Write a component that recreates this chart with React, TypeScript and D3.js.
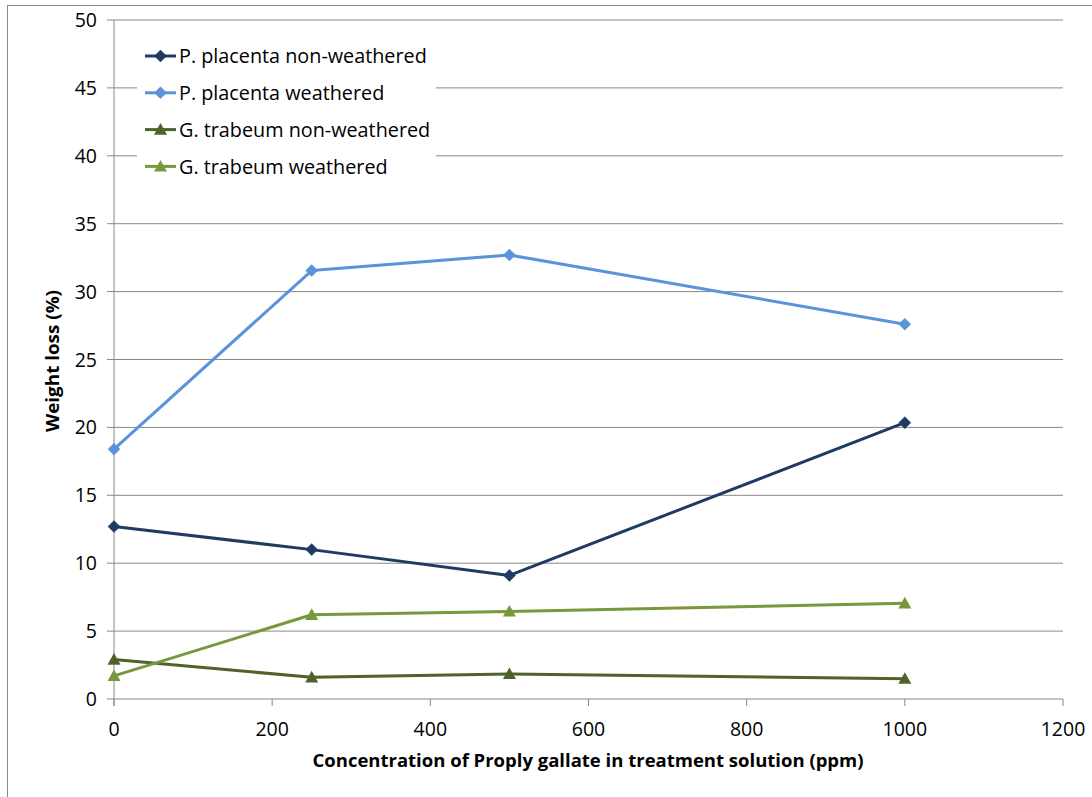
import React from "react";
import * as d3 from "d3";

const concentrations = [0, 250, 500, 1000];
const ppNonWeathered = [12.7, 11.0, 9.1, 20.35];
const ppWeathered = [18.4, 31.55, 32.7, 27.6];
const gtNonWeathered = [2.9, 1.6, 1.85, 1.5];
const gtWeathered = [1.7, 6.2, 6.45, 7.05];
const seriesNames = [
  "P. placenta non-weathered",
  "P. placenta weathered",
  "G. trabeum non-weathered",
  "G. trabeum weathered",
];
const xTicks = [0, 200, 400, 600, 800, 1000, 1200];
const yTicks = [0, 5, 10, 15, 20, 25, 30, 35, 40, 45, 50];

const colors = ["#1F3B63", "#5A93DA", "#4F6228", "#77993C"];
const markers = ["diamond", "diamond", "triangle", "triangle"];
const FONT = "Open Sans, Noto Sans, Liberation Sans, sans-serif";

export default function App() {
  const W = 1092, H = 797;
  const x = d3.scaleLinear().domain([0, 1200]).range([114, 1063]);
  const y = d3.scaleLinear().domain([0, 50]).range([699, 20]);
  const data = [ppNonWeathered, ppWeathered, gtNonWeathered, gtWeathered];
  const line = d3.line<number>().x((_, i) => x(concentrations[i])).y((d) => y(d));

  const marker = (type: string, cx: number, cy: number, color: string, key: string) => {
    if (type === "diamond") {
      const s = 6;
      return (
        <path key={key} d={`M${cx},${cy - s}L${cx + s},${cy}L${cx},${cy + s}L${cx - s},${cy}Z`} fill={color} stroke={color} strokeWidth={0.5} />
      );
    }
    const s = 6.5;
    return (
      <path key={key} d={`M${cx},${cy - s}L${cx + s},${cy + s * 0.8}L${cx - s},${cy + s * 0.8}Z`} fill={color} />
    );
  };

  return (
    <svg width={W} height={H} style={{ position: "absolute", left: 0, top: 0, background: "#fff" }}>
      <rect x={0} y={0} width={W} height={H} fill="#fff" />
      <line x1={7} x2={W} y1={5.5} y2={5.5} stroke="#8c8c8c" strokeWidth={1} />
      <line x1={7.5} x2={7.5} y1={5} y2={797} stroke="#8c8c8c" strokeWidth={1} />
      {yTicks.map((t) => (
        <g key={"y" + t}>
          <line x1={107} x2={1063} y1={y(t)} y2={y(t)} stroke="#888" strokeWidth={1} />
          <text x={97} y={y(t)} dy="0.36em" textAnchor="end" fontFamily={FONT} fontSize={19.5} fill="#000">{t}</text>
        </g>
      ))}
      <line x1={114} x2={114} y1={20} y2={706} stroke="#888" strokeWidth={1} />
      {xTicks.map((t) => (
        <g key={"x" + t}>
          <line x1={x(t)} x2={x(t)} y1={699} y2={706} stroke="#888" strokeWidth={1} />
          <text x={x(t)} y={736} textAnchor="middle" fontFamily={FONT} fontSize={19.5} fill="#000">{t}</text>
        </g>
      ))}
      <text x={588} y={767} textAnchor="middle" fontFamily={FONT} fontWeight="bold" fontSize={17.5} fill="#000" textLength={551} lengthAdjust="spacingAndGlyphs">
        Concentration of Proply gallate in treatment solution (ppm)
      </text>
      <text transform="translate(59,361) rotate(-90)" textAnchor="middle" fontFamily={FONT} fontWeight="bold" fontSize={17.5} fill="#000" textLength={142} lengthAdjust="spacingAndGlyphs">
        Weight loss (%)
      </text>
      {data.map((vals, si) => (
        <g key={"s" + si}>
          <path d={line(vals) || ""} fill="none" stroke={colors[si]} strokeWidth={3} strokeLinejoin="round" />
          {vals.map((v, i) => marker(markers[si], x(concentrations[i]), y(v), colors[si], `m${si}-${i}`))}
        </g>
      ))}
      <rect x={137} y={33} width={299} height={150} fill="#fff" />
      {seriesNames.map((n, i) => {
        const cy = 56 + i * 36.8;
        return (
          <g key={"l" + i}>
            <line x1={145} x2={176} y1={cy} y2={cy} stroke={colors[i]} strokeWidth={3} />
            {marker(markers[i], 160.5, cy, colors[i], "lm" + i)}
            <text x={179} y={cy} dy="0.36em" fontFamily={FONT} fontSize={19.8} fill="#000">{n}</text>
          </g>
        );
      })}
    </svg>
  );
}
